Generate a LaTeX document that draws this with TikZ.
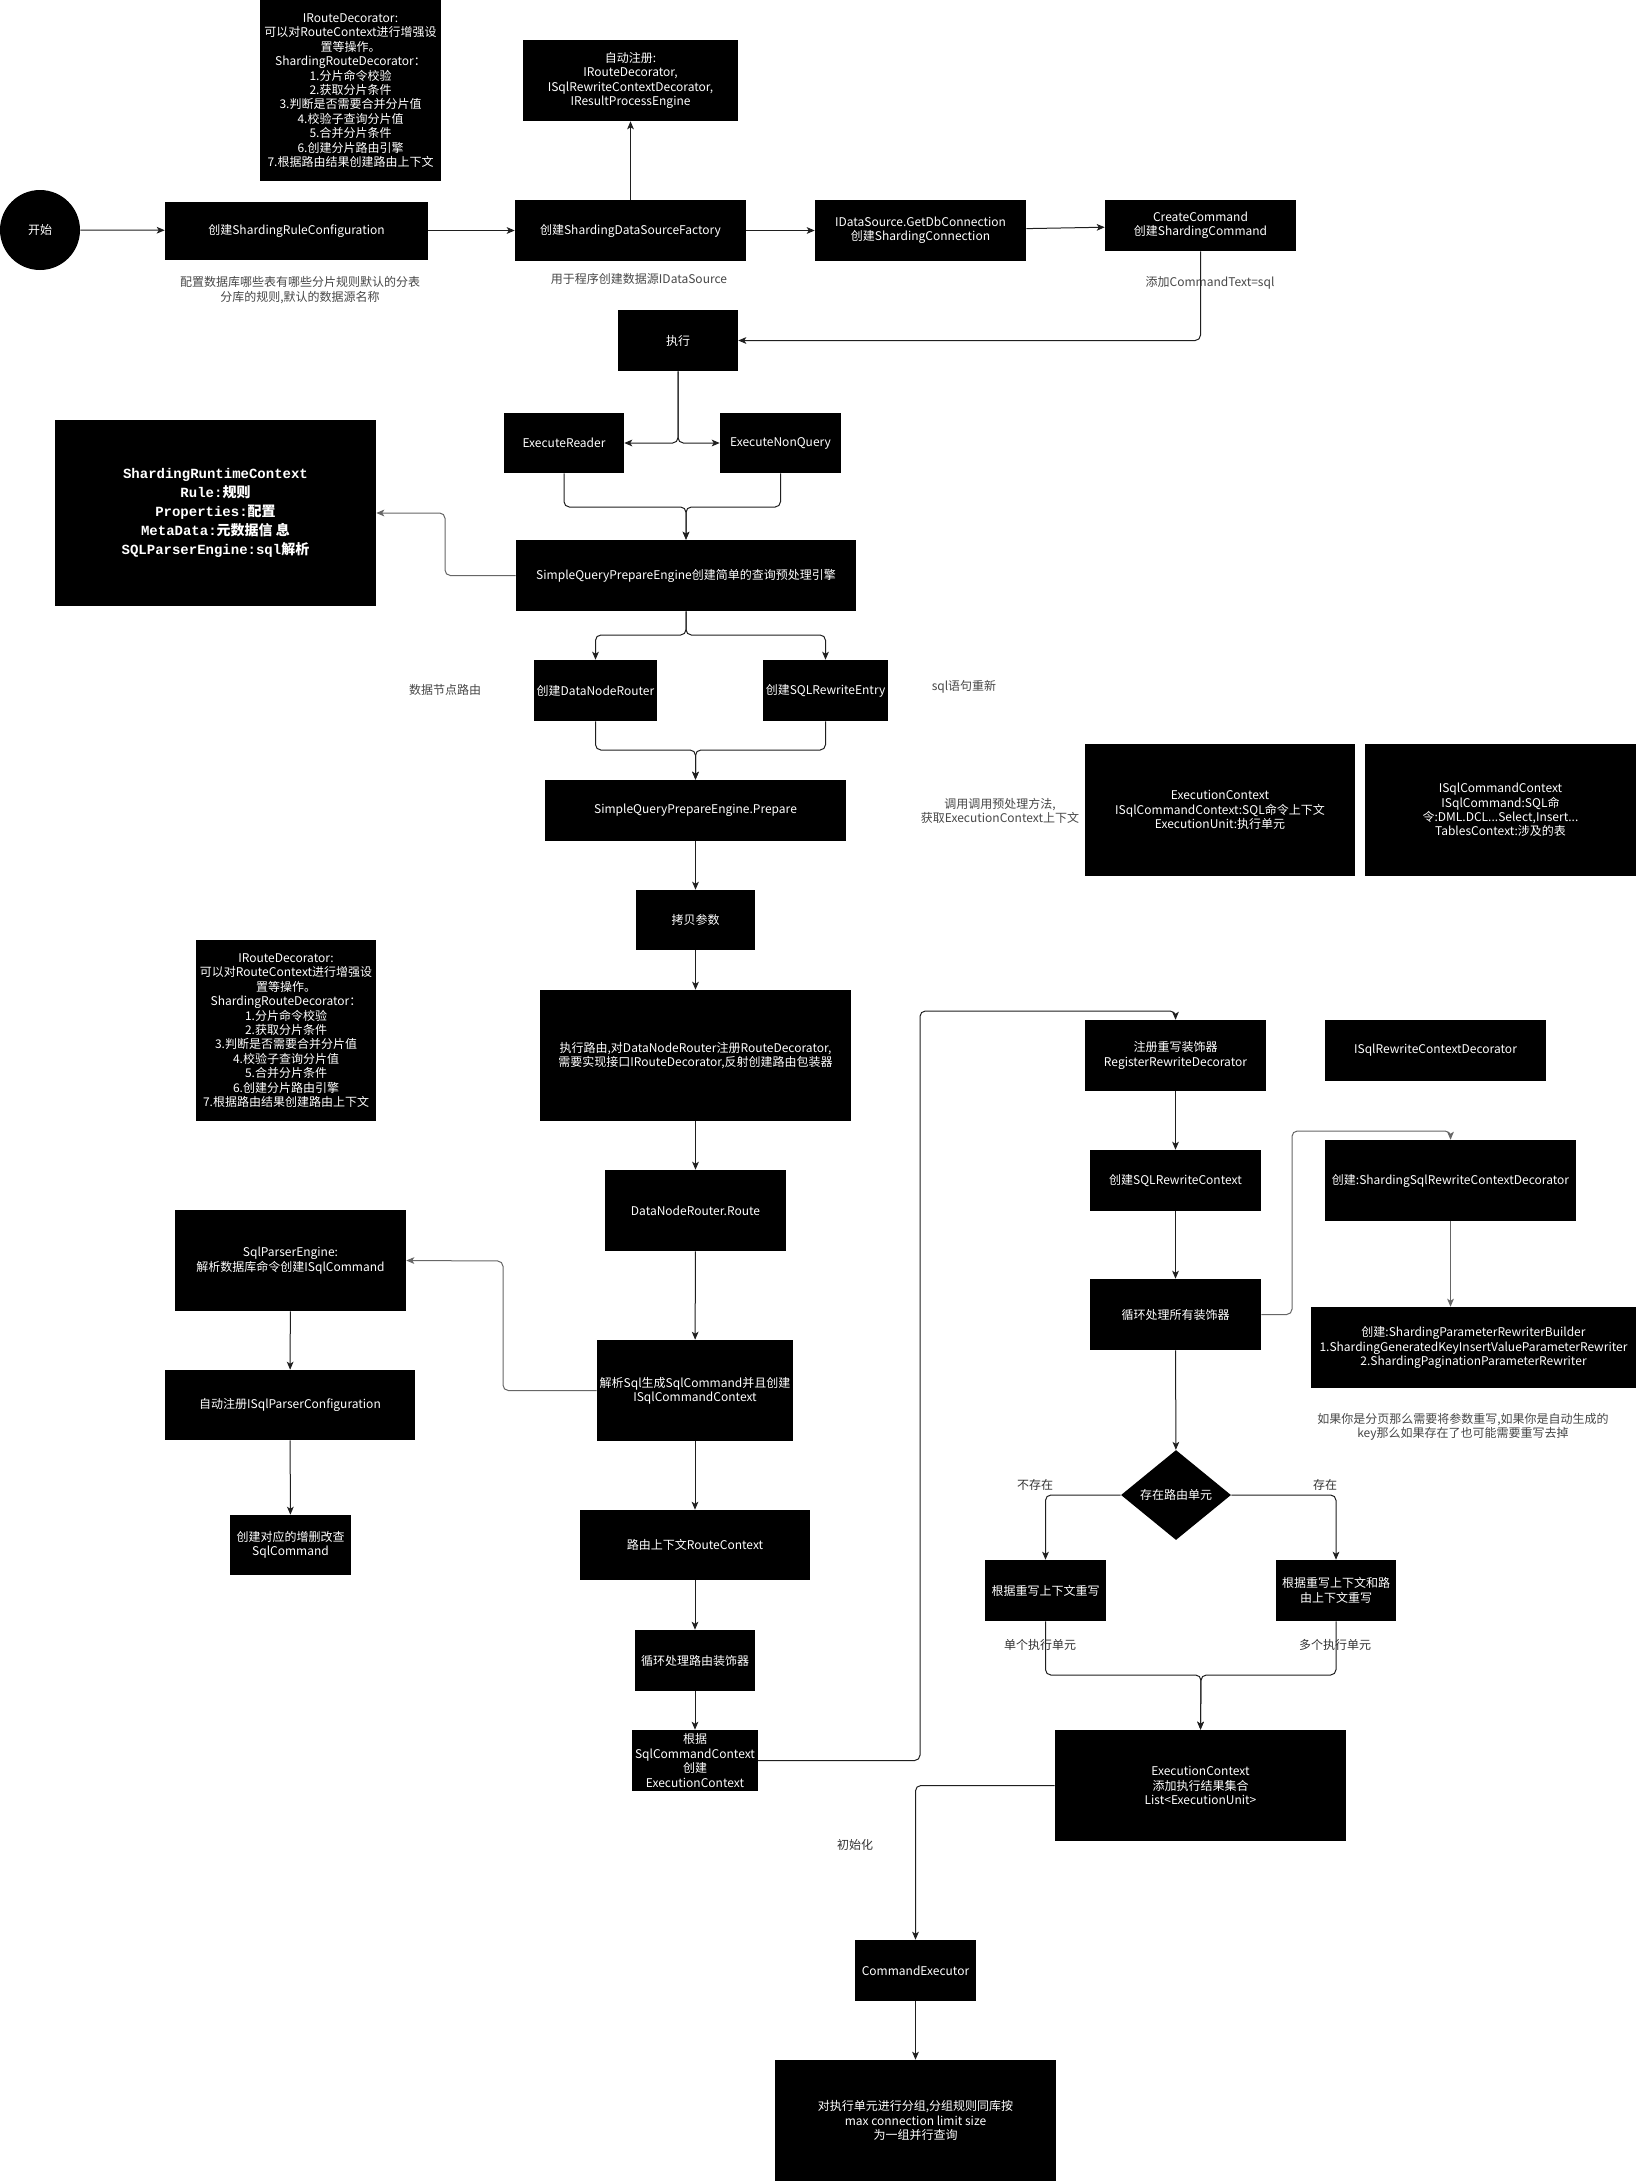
\documentclass[tikz,border=0pt]{standalone}
\usepackage{fontspec}
\setmainfont{Noto Sans CJK SC}
\newfontfamily\mono{Liberation Mono}
\usetikzlibrary{arrows.meta,shapes.geometric}

\newcommand\decolist{IRouteDecorator:\\可以对RouteContext进行增强设\\置等操作。\\
  ShardingRouteDecorator：\\1.分片命令校验\\2.获取分片条件\\3.判断是否需要合并分片值\\
  4.校验子查询分片值\\5.合并分片条件\\6.创建分片路由引擎\\7.根据路由结果创建路由上下文}

\tikzset{
  blk/.style={fill=black,text=white,align=center,inner sep=2pt,
              font=\fontsize{9}{10.8}\selectfont},
  boxsize/.style 2 args={minimum width=#1*0.75pt,minimum height=#2*0.75pt},
  note/.style={text=black!72,align=center,font=\fontsize{9}{10.8}\selectfont},
  lbl/.style={text=black!80,font=\fontsize{9}{10.8}\selectfont},
  flow/.style={draw=black!88,line width=.75pt,rounded corners=4pt,
               -{Stealth[length=6pt,width=5pt,inset=1.5pt]}},
  flowg/.style={flow,draw=black!60},
}

\begin{document}
\begin{tikzpicture}[x=.75pt,y=-.75pt]
 \path[use as bounding box,fill=white] (0,0) rectangle (1636,2181);

 % configuration row
 \node[blk,circle,minimum size=60pt] (start) at (40,230) {开始};
 \node[blk,boxsize={181}{181}] (decTop) at (350.5,90.5) {\decolist};
 \node[blk,boxsize={263}{58}] (ruleCfg) at (296.5,230.5) {创建ShardingRuleConfiguration};
 \node[blk,boxsize={215}{81}] (autoReg) at (630.5,80.5)
      {自动注册:\\IRouteDecorator,\\ISqlRewriteContextDecorator,\\IResultProcessEngine};
 \node[blk,boxsize={231}{61}] (dsFactory) at (630.5,230.5) {创建ShardingDataSourceFactory};
 \node[blk,boxsize={211}{61}] (getConn) at (920.5,230.5)
      {IDataSource.GetDbConnection\\创建ShardingConnection};
 \node[blk,boxsize={191}{51}] (createCmd) at (1200.5,225.5) {CreateCommand\\创建ShardingCommand};
 \node[note] (cfgNote) at (300,290) {配置数据库哪些表有哪些分片规则默认的分表\\分库的规则,默认的数据源名称};
 \node[note] (dsNote) at (639,279) {用于程序创建数据源IDataSource};
 \node[note] (cmdNote) at (1210,283) {添加CommandText=sql};

 % execute
 \node[blk,boxsize={120}{61}] (exec) at (678,340.5) {执行};
 \node[blk,boxsize={120}{60}] (reader) at (564,443) {ExecuteReader};
 \node[blk,boxsize={121}{60}] (nonQuery) at (780.5,443) {ExecuteNonQuery};
 \node[blk,boxsize={321}{186},font=\bfseries\fontsize{10.5}{14.3}\selectfont] (runtimeCtx) at (215.5,513)
      {{\mono ShardingRuntimeContext}\\{\mono Rule:}规则\\{\mono Properties:}配置\\
       {\mono MetaData:}元数据信 息\\{\mono SQLParserEngine:sql}解析};
 \node[blk,boxsize={340}{71}] (prepEngine) at (686,575.5) {SimpleQueryPrepareEngine创建简单的查询预处理引擎};
 \node[blk,boxsize={121}{61}] (router) at (595.5,690.5) {创建DataNodeRouter};
 \node[blk,boxsize={121}{61}] (rewriteEntry) at (825.5,690.5) {创建SQLRewriteEntry};
 \node[note] (routerNote) at (445,690) {数据节点路由};
 \node[note] (entryNote) at (964,687) {sql语句重新};
 \node[blk,boxsize={301}{61}] (prepare) at (695.5,810.5) {SimpleQueryPrepareEngine.Prepare};
 \node[note] (prepNote) at (1000,811) {调用调用预处理方法,\\获取ExecutionContext上下文};
 \node[blk,boxsize={270}{132}] (execCtxInfo) at (1220,810)
      {ExecutionContext\\ISqlCommandContext:SQL命令上下文\\ExecutionUnit:执行单元};
 \node[blk,boxsize={271}{132}] (cmdCtxInfo) at (1500.5,810)
      {ISqlCommandContext\\ISqlCommand:SQL命\\令:DML.DCL...Select,Insert...\\TablesContext:涉及的表};
 \node[blk,boxsize={119}{60}] (copyParams) at (695.5,920) {拷贝参数};

 % routing
 \node[blk,boxsize={180}{181}] (decMid) at (286,1030.5) {\decolist};
 \node[blk,boxsize={311}{131}] (doRoute) at (695.5,1055.5)
      {执行路由,对DataNodeRouter注册RouteDecorator,\\需要实现接口IRouteDecorator,反射创建路由包装器};
 \node[blk,boxsize={181}{81}] (route) at (695.5,1210.5) {DataNodeRouter.Route};
 \node[blk,boxsize={190}{101}] (parseSql) at (695,1390.5) {解析Sql生成SqlCommand并且创建\\ISqlCommandContext};
 \node[blk,boxsize={231}{101}] (parserEngine) at (290.5,1260.5) {SqlParserEngine:\\解析数据库命令创建ISqlCommand};
 \node[blk,boxsize={250}{70}] (parserCfg) at (290,1405) {自动注册ISqlParserConfiguration};
 \node[blk,boxsize={121}{60}] (sqlCmd) at (290.5,1545) {创建对应的增删改查\\SqlCommand};
 \node[blk,boxsize={230}{70}] (routeCtx) at (695,1545) {路由上下文RouteContext};
 \node[blk,boxsize={120}{61}] (loopRoute) at (695,1660.5) {循环处理路由装饰器};
 \node[blk,boxsize={120}{61}] (buildExec) at (695,1760.5) {根据\\SqlCommandContext\\创建\\ExecutionContext};

 % rewriting
 \node[blk,boxsize={181}{71}] (regRewrite) at (1175.5,1055.5) {注册重写装饰器\\RegisterRewriteDecorator};
 \node[blk,boxsize={221}{61}] (rewriteDec) at (1435.5,1050.5) {ISqlRewriteContextDecorator};
 \node[blk,boxsize={171}{61}] (rewriteCtx) at (1175.5,1180.5) {创建SQLRewriteContext};
 \node[blk,boxsize={171}{71}] (loopDec) at (1175.5,1314.5) {循环处理所有装饰器};
 \node[blk,boxsize={251}{81}] (shardDec) at (1450.5,1180.5) {创建:ShardingSqlRewriteContextDecorator};
 \node[blk,boxsize={325}{81}] (paramBuilder) at (1473.5,1347.5)
      {创建:ShardingParameterRewriterBuilder\\1.ShardingGeneratedKeyInsertValueParameterRewriter\\2.ShardingPaginationParameterRewriter};
 \node[note] (builderNote) at (1463,1427)
      {如果你是分页那么需要将参数重写,如果你是自动生成的\\key那么如果存在了也可能需要重写去掉};
 \node[blk,diamond,aspect=1.2,inner sep=0pt,boxsize={110}{90}] (hasUnit) at (1176,1495) {存在路由单元};
 \node[blk,boxsize={121}{61}] (singleRw) at (1045.5,1590.5) {根据重写上下文重写};
 \node[blk,boxsize={120}{61}] (multiRw) at (1336,1590.5) {根据重写上下文和路\\由上下文重写};
 \node[blk,boxsize={291}{111}] (execCtxList) at (1200.5,1785.5)
      {ExecutionContext\\添加执行结果集合\\List<ExecutionUnit>};
 \node[blk,boxsize={121}{61}] (cmdExecutor) at (915.5,1970.5) {CommandExecutor};
 \node[blk,boxsize={281}{121}] (grouping) at (915.5,2120.5)
      {对执行单元进行分组,分组规则同库按\\max connection limit size\\为一组并行查询};

 % connectors
 \draw[flow] (start) -- (ruleCfg);
 \draw[flow] (ruleCfg) -- (dsFactory);
 \draw[flow] (dsFactory) -- (autoReg);
 \draw[flow] (dsFactory) -- (getConn);
 \draw[flow] (getConn) -- (createCmd);
 \draw[flow] (createCmd.south) |- (exec.east);
 \draw[flow] (exec.south) |- (reader.east);
 \draw[flow] (exec.south) |- (nonQuery.west);
 \coordinate (execJoin) at (686,507);
 \draw[flow] (reader.south) |- (execJoin) -- (prepEngine.north);
 \draw[flow] (nonQuery.south) |- (execJoin) -- (prepEngine.north);
 \coordinate (ctxBend) at (445,513);
 \draw[flowg] (prepEngine.west) -| (ctxBend) -- (runtimeCtx.east);
 \coordinate (prepFork) at (686,635);
 \draw[flow] (prepEngine.south) -- (prepFork) -| (router.north);
 \draw[flow] (prepEngine.south) -- (prepFork) -| (rewriteEntry.north);
 \coordinate (prepJoin) at (695.5,750);
 \draw[flow] (router.south) |- (prepJoin) -- (prepare.north);
 \draw[flow] (rewriteEntry.south) |- (prepJoin) -- (prepare.north);
 \draw[flow] (prepare) -- (copyParams);
 \draw[flow] (copyParams) -- (doRoute);
 \draw[flow] (doRoute) -- (route);
 \draw[flow] (route) -- (parseSql);
 \coordinate (parseBend) at (503,1261);
 \draw[flowg] (parseSql.west) -| (parseBend) -- (parserEngine.east);
 \draw[flow] (parserEngine) -- (parserCfg);
 \draw[flow] (parserCfg) -- (sqlCmd);
 \draw[flow] (parseSql) -- (routeCtx);
 \draw[flow] (routeCtx) -- (loopRoute);
 \draw[flow] (loopRoute) -- (buildExec);
 \coordinate (rewriteBend) at (920,1011);
 \draw[flow] (buildExec.east) -| (rewriteBend) -| (regRewrite.north);
 \draw[flow] (regRewrite) -- (rewriteCtx);
 \draw[flow] (rewriteCtx) -- (loopDec);
 \draw[flow] (loopDec) -- (hasUnit);
 \coordinate (decBend) at (1292,1131);
 \draw[flowg] (loopDec.east) -| (decBend) -| (shardDec.north);
 \draw[flowg] (shardDec.south) -- (shardDec.south |- paramBuilder.north);
 \draw[flow] (hasUnit.west) -| (singleRw.north);
 \draw[flow] (hasUnit.east) -| (multiRw.north);
 \coordinate (unitJoin) at (1201,1675);
 \draw[flow] (singleRw.south) |- (unitJoin) -- (execCtxList.north);
 \draw[flow] (multiRw.south) |- (unitJoin) -- (execCtxList.north);
 \draw[flow] (execCtxList.west) -| (cmdExecutor.north);
 \draw[flow] (cmdExecutor) -- (grouping);

 % edge labels
 \node[lbl] (noUnit) at (1035,1485) {不存在};
 \node[lbl] (yesUnit) at (1325,1485) {存在};
 \node[lbl] (singleLbl) at (1040,1645) {单个执行单元};
 \node[lbl] (multiLbl) at (1335,1645) {多个执行单元};
 \node[lbl] (initLbl) at (855,1845) {初始化};
\end{tikzpicture}
\end{document}
